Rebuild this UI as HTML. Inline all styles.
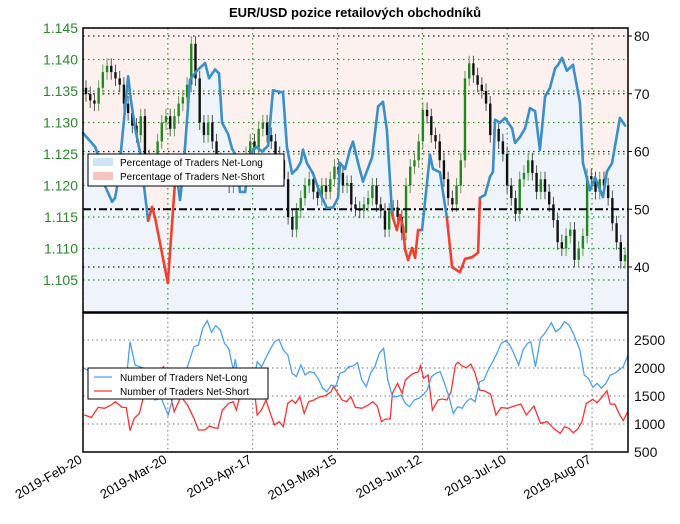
<!DOCTYPE html>
<html><head><meta charset="utf-8"><style>
body{margin:0;background:#fff;}
svg text{font-family:"Liberation Sans",sans-serif;}
</style></head><body>
<svg id="c" width="680" height="519" xmlns="http://www.w3.org/2000/svg">
<text x="355" y="17" text-anchor="middle" font-size="13" font-weight="bold">EUR/USD pozice retailových obchodníků</text>
</svg>
<script>
const dateLabels=["2019-Feb-20","2019-Mar-20","2019-Apr-17","2019-May-15","2019-Jun-12","2019-Jul-10","2019-Aug-07"];
const dateDays=[0,28,56,84,112,140,168];
const priceTicks=[1.105,1.110,1.115,1.120,1.125,1.130,1.135,1.140,1.145];
const pctTicks=[40,50,60,70,80];
const countTicks=[500,1000,1500,2000,2500];
const pctDays=[0,4,5.6,7.3,9.6,10.6,11.6,14.9,15.8,17.2,18.8,21.5,22.8,23.8,28,30.4,31.4,32,33,35.3,37.6,40.3,41.6,43.6,44.9,45.9,47.9,49.2,50.8,51.8,53.5,55.1,57.1,59.1,61.1,62.7,65,66,67.3,69,70.6,71.9,72.6,73.9,75.9,78.2,80.5,82.5,84.2,84.8,86.5,88.1,89.1,90.8,92.4,95.4,97.4,99,100.3,102,102.3,103.6,104.6,105.6,106.3,107.3,108.6,109.6,110.6,111.9,114.5,115.5,117.8,120.1,121.8,124.4,126.1,128.4,130.4,131,132.7,134.3,135.3,136,137.6,139.3,141.6,142.6,144.2,145.9,147.5,149.2,150.8,152.5,154.1,155.8,156.8,158.1,159.7,161.7,164,165,167.3,169,171.6,172.9,174.6,177.2,178.9];
const pctLong=[63.2,60.8,58.5,54,51.3,52,55,73,69,64,60,48,50.4,48.5,37.2,55,54,51.6,56,72.4,74,75.3,72.7,74.2,73.5,65,63,60.5,59,53,53,59.4,60.8,60,61,70.6,70.3,70.3,60.8,56.2,57,58.2,60.3,58,56.2,52.8,50.2,50.3,52,58,57,60.3,61.7,58,54.8,59,67.8,68.6,63.7,49.3,48.5,46.4,49,47,43,41.2,43.3,41.6,46.4,46.4,59.4,57,56.4,48.5,40,39.1,41.4,41.7,42.5,52,52.5,55.6,56.5,65.5,65,65.8,64,61.5,62.5,64,67.5,67,60.3,69.5,71,74.4,75,76.2,74,75,68.5,58,53.3,55.5,52.1,56.5,58,65.8,64.5];
const closes=[1.1345,1.1335,1.133,1.1355,1.138,1.139,1.138,1.137,1.136,1.133,1.1315,1.1295,1.128,1.131,1.1245,1.122,1.123,1.127,1.130,1.131,1.129,1.131,1.133,1.134,1.136,1.1425,1.137,1.130,1.128,1.130,1.127,1.124,1.123,1.122,1.120,1.121,1.122,1.123,1.125,1.127,1.126,1.129,1.130,1.128,1.127,1.125,1.124,1.121,1.115,1.113,1.116,1.118,1.120,1.121,1.119,1.118,1.120,1.119,1.121,1.123,1.122,1.120,1.1204,1.117,1.1163,1.116,1.117,1.118,1.120,1.117,1.116,1.113,1.116,1.1165,1.115,1.1125,1.120,1.123,1.124,1.127,1.132,1.131,1.128,1.127,1.124,1.121,1.118,1.117,1.120,1.124,1.137,1.1394,1.1375,1.136,1.135,1.133,1.128,1.129,1.127,1.125,1.120,1.118,1.1155,1.121,1.122,1.124,1.122,1.119,1.121,1.119,1.117,1.1145,1.111,1.110,1.112,1.113,1.1082,1.110,1.112,1.1215,1.121,1.119,1.121,1.120,1.118,1.114,1.111,1.108,1.109];
const countLongDays=[0.4,3.5,6.4,10,14.3,15.5,17.2,20.1,23.7,25.8,28.1,30.1,33,34.5,36.6,38.1,39.5,41,42.4,43.8,45.3,46.7,48.1,49.6,50.3,51.4,53.2,55.3,57.5,58.9,61.1,63.2,64.7,66.1,67.6,69,70.4,71.9,73.3,74.7,76.2,77.6,79.1,80.5,81.9,83.4,84.8,86.3,87.7,89.1,90.6,92,93.5,94.9,96.3,97.8,99.2,100.6,102.1,103.5,105,106.4,107.8,109.3,110.7,112.2,113.6,115,116.5,117.9,119.3,120.8,122.2,123.7,125.1,126.5,128,129.4,130.9,132.3,133.7,135.2,136.6,138,139.5,140.9,142.4,143.8,145.2,146.7,147.8,149.3,151,152.4,154.6,156,157.5,158.9,160.4,161.8,164,165.4,166.8,168.3,169.7,171.1,172.6,174,175.5,176.9,178.3,179.8];
const countLong=[1994,1900,1700,1488,1786,2470,2053,1994,1428,1458,1161,1547,1845,2024,2381,2410,2708,2845,2637,2756,2678,2440,2351,1964,2155,1726,1607,1488,2113,2024,2262,2470,2512,2321,2232,1905,1845,2053,1875,1934,1917,1815,1637,1577,1696,1667,1905,1934,2024,2036,2095,1786,1667,1905,2024,2262,2351,1786,1488,1488,1518,1369,1309,1428,1458,1518,1607,1845,1905,1934,1726,1488,1190,1309,1280,1399,1458,1399,1756,1786,1964,2113,2262,2440,2488,2410,2232,2053,2321,2440,2470,2024,2529,2619,2809,2649,2708,2827,2768,2619,2321,1875,1815,1655,1726,1637,1726,1875,1905,1964,2024,2220];
const countShortDays=[0.4,2.8,5,7.1,9.3,10.7,12.9,14.3,15.5,16.9,18.6,20.1,22.2,26.6,30.1,32.3,34.5,36.6,38.1,40.2,41.7,43.1,44.5,46,48.1,49.6,50.6,51.7,53.2,55.3,56.8,57.5,58.9,60.4,61.8,63.2,64.7,66.1,67.6,69,70.1,71.6,73,74.5,76.2,78.3,79.8,81.9,82.7,84.1,85.5,87,88.4,89.9,92,94.2,95.6,97.1,98.5,99.9,101.4,102.1,103.8,105.3,106.4,108.6,110.7,111.4,112.4,113.9,115.3,117.2,118.6,120.1,121.5,122.9,123.7,125.1,126.5,128,129.4,130.9,132.3,134.5,136.3,138,140.2,142.4,144.5,146.3,148.8,151,153.2,155.3,157.5,158.9,160.4,161.8,163.2,164.7,166.1,168.3,169.7,171.4,172.9,174,175.5,176.9,178.3,179.8];
const countShort=[1161,1119,1298,1280,1339,1399,1298,1292,881,1101,1190,1518,1786,2024,1220,1488,1339,1101,893,893,964,934,922,1250,1369,1399,1250,1488,1607,1845,1488,1161,1250,1428,1190,982,1042,952,1369,1428,1369,1488,1190,1399,1428,1488,1500,1577,1678,1547,1428,1399,1488,1298,1280,1339,1399,1321,1042,1089,1089,1547,1726,1547,1786,1893,1934,2041,1815,1875,1250,1428,1446,1428,1577,2053,2101,2036,2006,2071,1905,1607,1595,1536,1161,1292,1280,1321,1357,1161,1321,1012,1042,922,833,952,922,845,905,1042,1369,1440,1381,1488,1595,1357,1351,1190,1059,1220];

const NS="http://www.w3.org/2000/svg";
const svg=document.getElementById('c');
const L=83,R=628,T=28,B=312,T2=313,B2=452;
const xDay=d=>L+d*3.03;
const yP=p=>T+(1.145-p)/0.005*31.5;
const yPct=v=>36+(80-v)*5.775;
const yC=v=>B2-(v-500)*0.056;
function mk(tag,attrs,parent){const e=document.createElementNS(NS,tag);for(const k in attrs)e.setAttribute(k,attrs[k]);(parent||svg).appendChild(e);return e;}

const topG=mk('g',{});


mk('rect',{x:L,y:T,width:R-L,height:B-T,fill:'#fdf1f0'},topG);
let area='M'+xDay(pctDays[0])+','+B;
pctDays.forEach((d,i)=>{area+=' L'+xDay(d).toFixed(1)+','+yPct(pctLong[i]).toFixed(1);});
area+=' L'+xDay(pctDays[pctDays.length-1])+','+B+' L'+R+','+B+' Z';
const ar=mk('path',{d:area,fill:'#eef4fa'},topG);


mk('rect',{x:L,y:yPct(50),width:R-L,height:B-yPct(50),fill:'#eef4fa',opacity:0.6},topG);

priceTicks.forEach(p=>{mk('line',{x1:L,x2:R,y1:yP(p),y2:yP(p),stroke:'#2a9a2a','stroke-width':1.2,'stroke-dasharray':'1.5,3.5'},topG);});
pctTicks.forEach(v=>{if(v!==50)mk('line',{x1:L,x2:R,y1:yPct(v),y2:yPct(v),stroke:'#222','stroke-width':1.2,'stroke-dasharray':'1.5,3.5'},topG);});
dateDays.forEach(d=>{mk('line',{x1:xDay(d),x2:xDay(d),y1:T,y2:B,stroke:'#2a9a2a','stroke-width':1.2,'stroke-dasharray':'1.5,3.5'},topG);});

const n=closes.length, step=(625-86)/(n-1);
closes.forEach((c,i)=>{
  const o=i?closes[i-1]:c+0.001;
  const x=86+i*step;
  const up=c>=o;
  const col=up?'#1e8a1e':'#111';
  const hi=Math.max(o,c)+0.0012, lo=Math.min(o,c)-0.0012;
  const g=mk('g',{},topG);
  
  
  mk('line',{x1:x,x2:x,y1:yP(hi),y2:yP(lo),stroke:up?'#6a9a5a':'#555','stroke-width':1},g);
  mk('rect',{x:x-1.2,y:yP(Math.max(o,c)),width:2.4,height:Math.max(1,yP(Math.min(o,c))-yP(Math.max(o,c))),fill:col},g);
});

const fl=mk('line',{x1:L,x2:R,y1:yPct(50),y2:yPct(50),stroke:'#000','stroke-width':2,'stroke-dasharray':'8,3,2,3'},topG);



for(let i=1;i<pctDays.length;i++){
  const m=(pctLong[i]+pctLong[i-1])/2;
  const s=mk('line',{x1:xDay(pctDays[i-1]),y1:yPct(pctLong[i-1]),x2:xDay(pctDays[i]),y2:yPct(pctLong[i]),stroke:m<50?'#f04030':'#3a8fc8','stroke-width':2.6,'stroke-linecap':'round'},topG);
  
  
}
mk('rect',{x:L,y:T,width:R-L,height:B-T,fill:'none',stroke:'#000','stroke-width':1.5},topG);

priceTicks.forEach(p=>{
  const tl=mk('text',{x:78,y:yP(p)+5,'text-anchor':'end','font-size':14,fill:'#2a8a2a'});
  tl.textContent=p.toFixed(3);
  
  
});
pctTicks.forEach(v=>{
  const tl=mk('text',{x:634,y:yPct(v)+5,'font-size':14,fill:'#111'});
  tl.textContent=v;
  
  
  mk('line',{x1:R,x2:R+4,y1:yPct(v),y2:yPct(v),stroke:'#000'});
});

const lg=mk('g',{});


mk('rect',{x:88,y:154,width:196,height:32,fill:'#fff',stroke:'#000','stroke-width':1},lg);
mk('rect',{x:93,y:158,width:20,height:8,fill:'#cfe3f7'},lg);
mk('rect',{x:93,y:172,width:20,height:8,fill:'#f9c4c0'},lg);
let tt=mk('text',{x:120,y:166,'font-size':10},lg);tt.textContent='Percentage of Traders Net-Long';
tt=mk('text',{x:120,y:180,'font-size':10},lg);tt.textContent='Percentage of Traders Net-Short';

const bot=mk('g',{});


mk('rect',{x:L,y:T2,width:R-L,height:B2-T2,fill:'#fff'},bot);
countTicks.forEach(v=>{if(v>500)mk('line',{x1:L,x2:R,y1:yC(v),y2:yC(v),stroke:'#777','stroke-width':1,'stroke-dasharray':'1.5,3'},bot);});
dateDays.forEach(d=>{mk('line',{x1:xDay(d),x2:xDay(d),y1:T2,y2:B2,stroke:'#777','stroke-width':1,'stroke-dasharray':'1.5,3'},bot);});
function series(days,arr,col,name){
  const m=Math.min(days.length,arr.length);
  let d='';
  for(let i=0;i<m;i++){d+=(i?' L':'M')+Math.min(R,xDay(days[i])).toFixed(1)+','+yC(arr[i]).toFixed(1);}
  const p=mk('path',{d:d,fill:'none',stroke:col,'stroke-width':1.3},bot);
  
  
}
series(countShortDays,countShort,'#ff3030','net-short-count-line');
series(countLongDays,countLong,'#4aa0f0','net-long-count-line');
mk('rect',{x:L,y:T2,width:R-L,height:B2-T2,fill:'none',stroke:'#000','stroke-width':1.5},bot);
countTicks.forEach(v=>{
  const tl=mk('text',{x:634,y:yC(v)+5,'font-size':14,fill:'#111'});
  tl.textContent=v;
  
  
});

const lg2=mk('g',{});


mk('rect',{x:88,y:368,width:180,height:31,fill:'#fff',stroke:'#000','stroke-width':1},lg2);
mk('line',{x1:94,x2:112,y1:377,y2:377,stroke:'#4aa0f0','stroke-width':1.3},lg2);
mk('line',{x1:94,x2:112,y1:391,y2:391,stroke:'#ff3030','stroke-width':1.3},lg2);
tt=mk('text',{x:120,y:381,'font-size':10},lg2);tt.textContent='Number of Traders Net-Long';
tt=mk('text',{x:120,y:395,'font-size':10},lg2);tt.textContent='Number of Traders Net-Short';

dateLabels.forEach((s,i)=>{
  const x=xDay(dateDays[i]);
  const tx=mk('text',{x:x,y:462,'font-size':13,'text-anchor':'end',transform:'rotate(-30 '+x+' 462)'});
  tx.textContent=s;
  
  
});
</script>
</body></html>
